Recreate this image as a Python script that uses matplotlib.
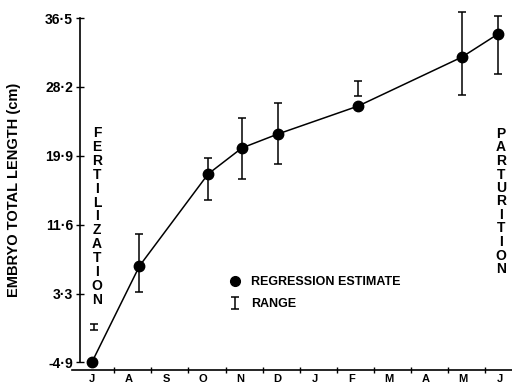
import matplotlib
matplotlib.use("Agg")
import matplotlib.pyplot as plt
from matplotlib.lines import Line2D
import numpy as np

plt.rcParams['font.family'] = ['Liberation Sans', 'DejaVu Sans']

# months from July (fertilization) to the following June (parturition)
month_labels = ["J", "A", "S", "O", "N", "D", "J", "F", "M", "A", "M", "J"]

# regression estimates of embryo length, month position counted from July
est_month = [0.0, 1.28, 3.13, 4.04, 5.01, 7.17, 9.97, 10.94]
est_length = [-4.9, 6.66, 17.73, 20.86, 22.54, 25.9, 31.8, 34.57]

# observed ranges of embryo length
range_month = [0.05, 1.28, 3.13, 4.04, 5.01, 7.17, 9.97, 10.94]
range_low = [-1.04, 3.53, 14.6, 17.13, 18.93, 27.1, 27.2, 29.76]
range_high = [-0.36, 10.5, 19.65, 24.5, 26.27, 28.9, 37.2, 36.74]

y_ticks = [-4.9, 3.3, 11.6, 19.9, 28.2, 36.5]
y_tick_labels = ["-4·9", "3·3", "11·6", "19·9", "28·2", "36·5"]

W, H = 512, 387
fig = plt.figure(figsize=(W / 100, H / 100), dpi=100)
ax = fig.add_axes([72 / W, 17 / H, 440 / W, 370 / H])

ax.set_xlim(-0.539, 11.32)
ax.set_ylim(-5.86, 38.67)

rng_lo = np.array(range_low)
rng_hi = np.array(range_high)
mid = (rng_lo + rng_hi) / 2
rng = ax.errorbar(range_month, mid, yerr=[mid - rng_lo, rng_hi - mid], fmt="none",
                  ecolor="black", elinewidth=1.1, capsize=3, capthick=1.1)
ax.plot(est_month, est_length, color="black", lw=1.1, marker="o", ms=7.5,
        markerfacecolor="black", zorder=3)

# axes styling
for side in ["top", "right"]:
    ax.spines[side].set_visible(False)
ax.spines["left"].set_position(("data", -0.323))
ax.spines["left"].set_bounds(-4.9, 36.5)
ax.spines["left"].set_linewidth(1.2)
ax.spines["bottom"].set_linewidth(1.2)

ax.set_yticks(y_ticks)
ax.set_yticklabels(y_tick_labels, fontsize=10, fontweight="bold")
ax.tick_params(axis="y", direction="inout", length=6, width=1.0, pad=2)

ax.set_xticks(np.arange(11) + 0.6)
ax.set_xticklabels([])
ax.set_xticks(np.arange(12), minor=True)
ax.set_xticklabels(month_labels, minor=True, fontsize=8, fontweight="bold")
ax.tick_params(axis="x", which="major", direction="inout", length=5, width=1.0)
ax.tick_params(axis="x", which="minor", length=0, pad=3)

fig.text(14 / W, 1 - 190 / H, "EMBRYO TOTAL LENGTH (cm)", rotation=90,
         ha="center", va="center", fontsize=10.5, fontweight="bold")


def stacked(word, x_px, y0_px, step_px):
    for i, ch in enumerate(word):
        fig.text(x_px / W, 1 - (y0_px + i * step_px) / H, ch, ha="center",
                 va="center", fontsize=10, fontweight="bold")


stacked("FERTILIZATION", 97, 133, 13.9)
stacked("PARTURITION", 501, 134, 13.5)

dot_handle = Line2D([], [], color="black", marker="o", ls="none", ms=7)
leg = fig.legend([dot_handle, rng], ["REGRESSION ESTIMATE", "RANGE"],
                 loc="upper left", bbox_to_anchor=(222 / W, 1 - 270 / H),
                 frameon=False, handlelength=1.0, handletextpad=0.8,
                 labelspacing=0.8, borderpad=0,
                 prop={"size": 9, "weight": "bold"})

fig.savefig("out.png", dpi=100)
